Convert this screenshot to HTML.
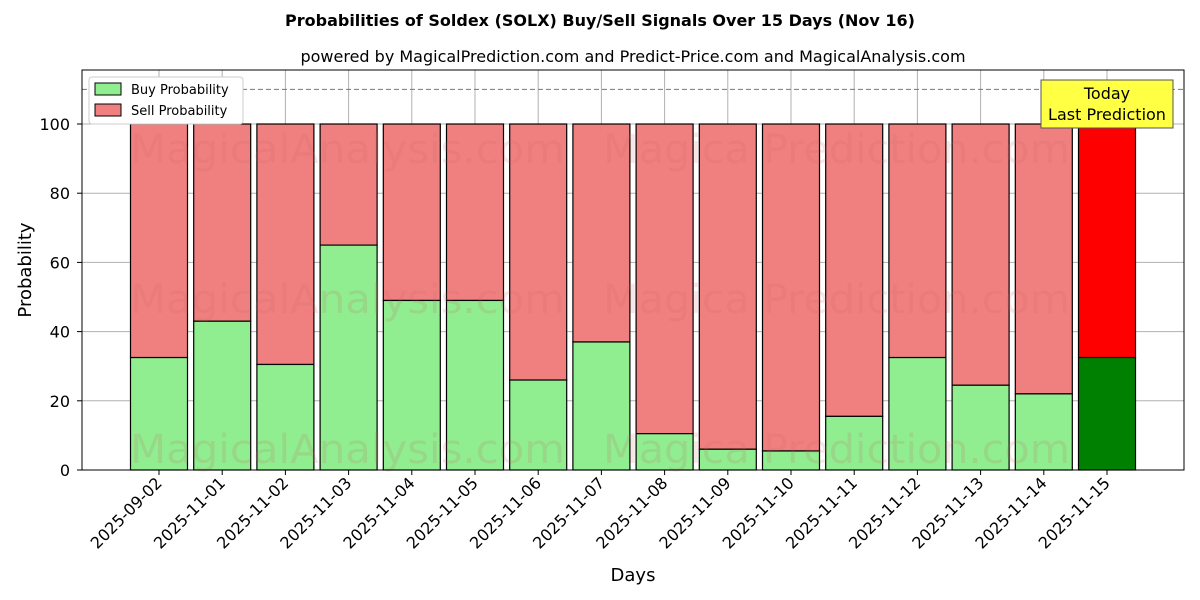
<!DOCTYPE html>
<html><head><meta charset="utf-8"><style>body{margin:0;background:#fff}svg{display:block}</style></head><body>
<svg width="1200" height="600" xmlns="http://www.w3.org/2000/svg" font-family="'DejaVu Sans','Liberation Sans',sans-serif">
<rect width="1200" height="600" fill="#fff"/>
<text x="600" y="26" text-anchor="middle" font-size="16" font-weight="bold">Probabilities of Soldex (SOLX) Buy/Sell Signals Over 15 Days (Nov 16)</text>
<text x="633" y="62" text-anchor="middle" font-size="16">powered by MagicalPrediction.com and Predict-Price.com and MagicalAnalysis.com</text>
<g id="bars"></g>
<g font-size="40" fill="rgba(200,100,100,0.16)">
<text x="130" y="163" textLength="435" lengthAdjust="spacingAndGlyphs">MagicalAnalysis.com</text><text x="603" y="163" textLength="467" lengthAdjust="spacingAndGlyphs">Magica Prediction.com</text>
<text x="130" y="313" textLength="435" lengthAdjust="spacingAndGlyphs">MagicalAnalysis.com</text><text x="603" y="313" textLength="467" lengthAdjust="spacingAndGlyphs">Magica Prediction.com</text>
<text x="130" y="463" textLength="435" lengthAdjust="spacingAndGlyphs">MagicalAnalysis.com</text><text x="603" y="463" textLength="467" lengthAdjust="spacingAndGlyphs">Magica Prediction.com</text>
</g>
<line x1="82" y1="89.4" x2="1184" y2="89.4" stroke="#777" stroke-dasharray="5,3"/>
<rect x="82" y="70" width="1102" height="400" fill="none" stroke="#000"/>
<g id="yt" font-size="16"></g>
<text x="31" y="270" font-size="18" text-anchor="middle" transform="rotate(-90 31 270)">Probability</text>
<text x="633" y="581" font-size="18" text-anchor="middle">Days</text>
<rect x="1041" y="80" width="132" height="48" fill="#ffff44" stroke="#555"/>
<text x="1107" y="99" font-size="16" text-anchor="middle">Today</text>
<text x="1107" y="120" font-size="16" text-anchor="middle">Last Prediction</text>
<rect x="89" y="77" width="154" height="47" fill="#fff" stroke="#ccc" rx="3"/>
<rect x="95" y="83" width="26" height="12" fill="#90ee90" stroke="#000"/>
<text x="131" y="94" font-size="13">Buy Probability</text>
<rect x="95" y="104" width="26" height="12" fill="#f08080" stroke="#000"/>
<text x="131" y="115" font-size="13">Sell Probability</text>
</svg>
<script>
var ns="http://www.w3.org/2000/svg",svg=document.querySelector('svg');
var buy=[32.5,43,30.5,65,49,49,26,37,10.5,6,5.5,15.5,32.5,24.5,22,32.5];
var d=["2025-09-02","2025-11-01","2025-11-02","2025-11-03","2025-11-04","2025-11-05","2025-11-06","2025-11-07","2025-11-08","2025-11-09","2025-11-10","2025-11-11","2025-11-12","2025-11-13","2025-11-14","2025-11-15"];
function el(t,a,p){var e=document.createElementNS(ns,t);for(var k in a)e.setAttribute(k,a[k]);(p||g).appendChild(e);return e}
var g=document.getElementById('bars');
function Y(v){return 470-v*3.46}
for(var v=0;v<=100;v+=20){el('line',{x1:82,x2:1184,y1:Y(v),y2:Y(v),stroke:'#b0b0b0'});
var t=el('text',{x:70,y:Y(v)+6,'text-anchor':'end'},document.getElementById('yt'));t.textContent=v;
el('line',{x1:77,x2:82,y1:Y(v),y2:Y(v),stroke:'#000'},document.getElementById('yt'));}
for(var i=0;i<16;i++){var c=159+i*63.2;el('line',{x1:c,x2:c,y1:70,y2:470,stroke:'#b0b0b0'});}
for(var i=0;i<16;i++){var c=159+i*63.2,x=c-28.5,last=i==15;
el('rect',{x:x,y:Y(100),width:57,height:Y(buy[i])-Y(100),fill:last?'#ff0000':'#f08080',stroke:'#000','stroke-width':1.2});
el('rect',{x:x,y:Y(buy[i]),width:57,height:470-Y(buy[i]),fill:last?'#008000':'#90ee90',stroke:'#000','stroke-width':1.2});
el('line',{x1:c,x2:c,y1:470,y2:475,stroke:'#000'},svg);
var t=el('text',{x:c+4,y:484,'font-size':16,'text-anchor':'end',transform:'rotate(-45 '+(c+4)+' 484)'},svg);t.textContent=d[i];}
</script>
</body></html>
